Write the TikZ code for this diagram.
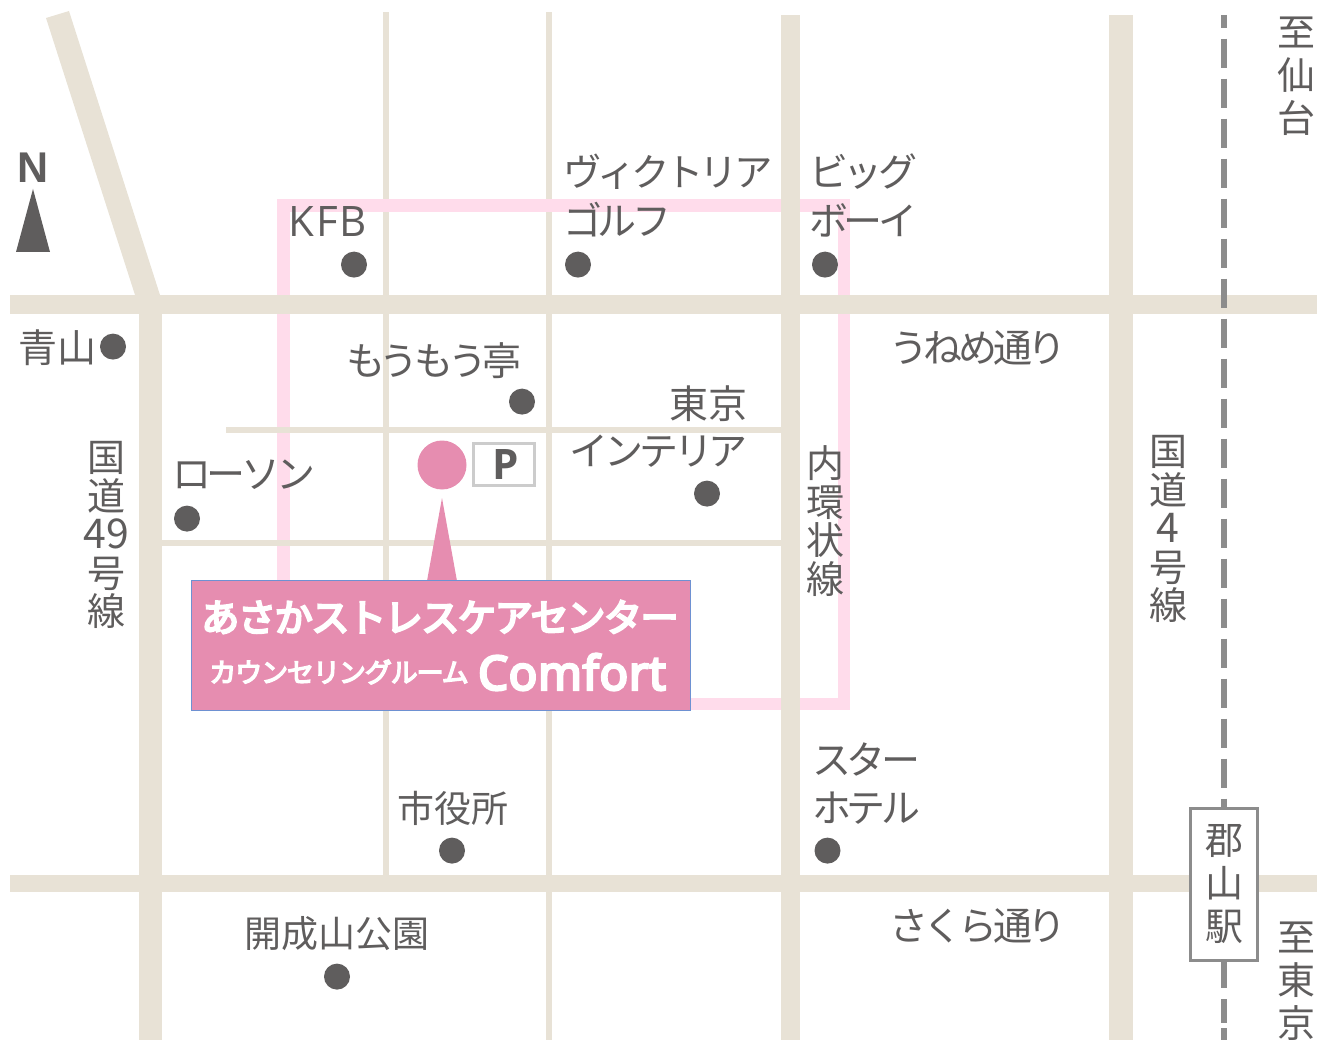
\documentclass[tikz,border=0pt]{standalone}
\usepackage{fontspec}
\setmainfont{Noto Sans CJK JP}
\newfontfamily\latinf{Open Sans}
\newfontfamily\arialf{Liberation Sans}
\newfontfamily\kanaf[LetterSpace=-11]{Noto Sans CJK JP}
\newfontfamily\boxa[LetterSpace=-3.5,FakeBold=6]{Noto Sans CJK JP}
\newfontfamily\boxb[LetterSpace=-4,FakeBold=5]{Noto Sans CJK JP}
\newfontfamily\comf[LetterSpace=2,FakeBold=6]{Open Sans}
\newfontfamily\kfbf[LetterSpace=4]{Open Sans}
\definecolor{road}{HTML}{E8E2D6}
\definecolor{route}{HTML}{FFDCEB}
\definecolor{ink}{HTML}{5F5D5D}
\definecolor{accent}{HTML}{E68DB0}
\definecolor{rail}{HTML}{8C8C8C}
\tikzset{
 x=1pt,y=-1pt,
 lab/.style={text=ink,font=\kanaf\fontsize{39}{38}\selectfont,inner sep=0pt,anchor=center},
 kanji/.style={text=ink,font=\fontsize{37}{38}\selectfont,inner sep=0pt,anchor=center},
 vlab/.style={text=ink,font=\fontsize{38}{38.5}\selectfont,inner sep=0pt,anchor=center,align=center},
 dot/.style={circle,fill=ink,draw=none,minimum size=26pt,inner sep=0pt},
}
\begin{document}
\begin{tikzpicture}
\useasboundingbox (0,0) rectangle (1317,1040);
% thin roads under the route
\fill[road] (383,12) rectangle (389,875);
\fill[road] (546,12) rectangle (552,1040);
% pink route
\fill[route] (277,199) rectangle (850,212);
\fill[route] (277,199) rectangle (290,590);
\fill[route] (838,199) rectangle (850,710);
\fill[route] (680,698) rectangle (850,710);
% roads
\fill[road] (46,18) -- (69,11) -- (160,295) -- (135,295) -- cycle;
\fill[road] (10,295) rectangle (1317,314);
\fill[road] (10,875) rectangle (1317,892);
\fill[road] (139,295) rectangle (162,1040);
\fill[road] (781,15) rectangle (800,1040);
\fill[road] (1109,15) rectangle (1133,1040);
\fill[road] (226,427) rectangle (781,433);
\fill[road] (162,540) rectangle (781,546);
% rail
\draw[rail,line width=5.5pt,dash pattern=on 29.6pt off 10.4pt,dash phase=16.3pt] (1223.8,15) -- (1223.8,962);
\fill[rail] (1221,962) rectangle (1226.6,988);
\fill[rail] (1221,999) rectangle (1226.6,1023);
\fill[rail] (1221,1028) rectangle (1226.6,1040);
% station
\node[draw=rail,line width=2.5pt,fill=white,minimum width=67pt,minimum height=152pt,inner sep=0pt] (station) at (1224,884.5) {};
\node[vlab,font=\fontsize{38}{43}\selectfont] (stationlab) at (1224,884) {郡\\山\\駅};
% north
\node[text=ink,font=\arialf\bfseries\fontsize{43}{43}\selectfont,inner sep=0pt] (north) at (33,168) {N};
\fill[ink] (33,189) -- (50,252) -- (16,252) -- cycle;
% pin
\node[circle,fill=accent,minimum size=49pt,inner sep=0pt] (pin) at (442,465) {};
\fill[accent] (442,498) -- (457,581) -- (427,581) -- cycle;
\node[draw=black!20,line width=3pt,minimum width=61pt,minimum height=42pt,inner sep=0pt,fill=white] (pbox) at (503.5,464) {};
\node[text=ink,font=\latinf\bfseries\fontsize{42}{42}\selectfont,inner sep=0pt] (plab) at (506,465) {P};
% callout
\node[fill=accent,draw={rgb,255:red,110;green,145;blue,210},line width=0.8pt,minimum width=499pt,minimum height=130pt,inner sep=0pt] (callout) at (441,645.5) {};
\node[text=white,font=\boxa\fontsize{38}{38}\selectfont,inner sep=0pt] (c1) at (440,617) {あさかストレスケアセンター};
\node[text=white,font=\boxb\fontsize{27}{27}\selectfont,inner sep=0pt] (c2) at (339,672) {カウンセリングルーム};
\node[text=white,font=\comf\fontsize{47}{47}\selectfont,inner sep=0pt] (c3) at (572,672) {Comfort};
% dots
\node[dot] (d1) at (354,264.6) {};
\node[dot] (d2) at (578,264.6) {};
\node[dot] (d3) at (825,264.6) {};
\node[dot] (d4) at (113,346.6) {};
\node[dot] (d5) at (522,401.6) {};
\node[dot] (d6) at (707,493.6) {};
\node[dot] (d7) at (187,518.6) {};
\node[dot] (d8) at (452,850.6) {};
\node[dot] (d9) at (827.5,850.6) {};
\node[dot] (d10) at (337,976.6) {};
% labels
\node[lab,font=\kfbf\fontsize{42}{42}\selectfont] (t1) at (328,222) {KFB};
\node[lab,anchor=west,font=\kanaf\fontsize{38.4}{38}\selectfont] (t2a) at (563,172) {ヴィクトリア};
\node[lab,anchor=west] (t2b) at (563,220) {ゴルフ};
\node[lab,anchor=west] (t3a) at (809,172) {ビッグ};
\node[lab,anchor=west] (t3b) at (809,220) {ボーイ};
\node[kanji,anchor=west,font=\fontsize{39}{39}\selectfont] (t4) at (18,348) {青山};
\node[lab] (t5) at (434,361) {もうもう亭};
\node[lab] (t6) at (978,348) {うねめ通り};
\node[kanji,anchor=east,font=\fontsize{39}{39}\selectfont] (t7a) at (748,404) {東京};
\node[lab,anchor=east] (t7b) at (748,451) {インテリア};
\node[lab,anchor=west] (t8) at (172,475) {ローソン};
\node[kanji] (t9) at (453,808) {市役所};
\node[lab,anchor=west] (t10a) at (812,759) {スター};
\node[lab,anchor=west] (t10b) at (812,808) {ホテル};
\node[kanji] (t11) at (337,934) {開成山公園};
\node[lab] (t12) at (978,926) {さくら通り};
\node[vlab] (v1) at (106,535) {国\\道\\{\fontsize{41}{38}\selectfont 49}\\号\\線};
\node[vlab] (v2) at (825,521) {内\\環\\状\\線};
\node[vlab] (v3) at (1168,529) {国\\道\\{\fontsize{41}{38}\selectfont 4}\\号\\線};
\node[vlab,font=\fontsize{38}{43}\selectfont] (v4) at (1296,76) {至\\仙\\台};
\node[vlab,font=\fontsize{38}{43}\selectfont,anchor=north] (v5) at (1296,922) {至\\東\\京};
\end{tikzpicture}
\end{document}
